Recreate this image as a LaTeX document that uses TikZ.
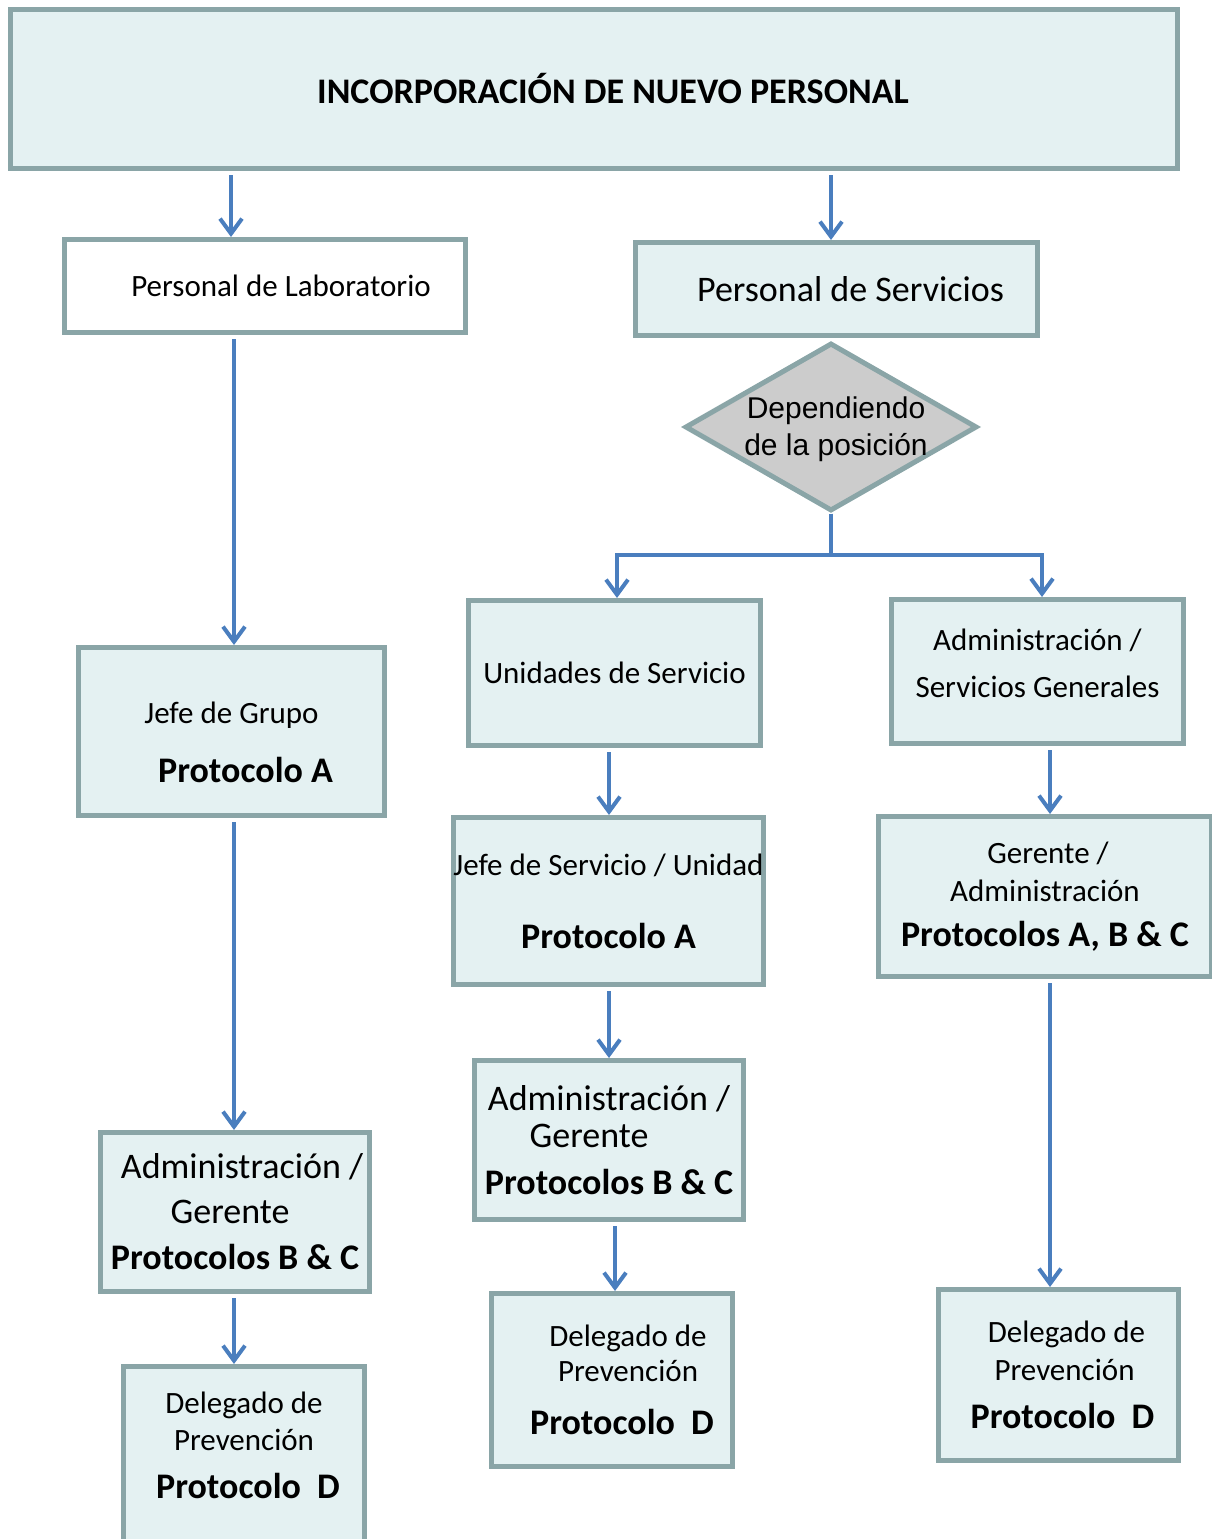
\documentclass[tikz,border=0pt]{standalone}
\usepackage{fontspec}
\setmainfont{Carlito}
\newfontfamily\arialfont{Liberation Sans}
\usetikzlibrary{shapes.geometric,arrows.meta}
\definecolor{boxgray}{RGB}{138,165,167}
\definecolor{boxfill}{RGB}{228,241,242}
\definecolor{flowblue}{RGB}{74,126,190}
\definecolor{decfill}{RGB}{204,204,204}
\newcommand{\fnorm}{\fontsize{31}{37}\selectfont}
\newcommand{\flarge}{\fontsize{36}{45}\selectfont}
\newcommand{\fbold}{\fontsize{36}{45}\selectfont\bfseries}

\begin{document}
\begin{tikzpicture}[x=1pt, y=-1pt, >={Straight Barb[length=15pt,width=22pt]},
	box/.style={draw=boxgray, line width=5pt, fill=boxfill, align=center, inner sep=0pt, font=\fnorm},
	decision/.style={diamond, draw=boxgray, line width=5pt, fill=decfill, inner sep=0pt},
	dlabel/.style={font=\arialfont\fontsize{30}{37}\selectfont, align=center},
	flow/.style={->, draw=flowblue, line width=4pt, shorten <=4pt}]
		\useasboundingbox (0,0) rectangle (1212,1539);
		% top row
		\node[box, minimum width=1167pt, minimum height=159pt, font=\fontsize{36}{44}\selectfont\bfseries] (top) at (594,89) {\hspace*{38pt}INCORPORACIÓN DE NUEVO PERSONAL};
		\node[box, fill=white, minimum width=401pt, minimum height=93pt] (lab) at (265,286) {\hspace*{32pt}Personal de Laboratorio};
		\node[box, minimum width=402pt, minimum height=93pt, font=\flarge] (serv) at (836.5,289) {\hspace*{28pt}Personal de Servicios};
		\node[decision, minimum width=292pt, minimum height=168pt,
			label={[dlabel, xshift=5pt, yshift=-2pt]center:Dependiendo\\de la posición}] (pos) at (831,427) {};
		% laboratorio
		\node[box, minimum width=306pt, minimum height=168pt] (jgrupo) at (231.5,731.5) {\rule{0pt}{44pt}Jefe de Grupo\\[22pt]\fbold\hspace*{28pt}Protocolo A};
		\node[box, minimum width=269pt, minimum height=159pt, font=\flarge] (admL) at (235,1212) {\hspace*{14pt}Administración /\\[0pt]\hspace*{-10pt}Gerente\\[1pt]\fbold Protocolos B \& C};
		\node[box, minimum width=241pt, minimum height=175pt] (delL) at (244,1454) {Delegado de\\Prevención\\[11pt]\fbold\hspace*{8pt}Protocolo\ \ D\rule[-17pt]{0pt}{0pt}};
		% unidades de servicio
		\node[box, minimum width=292pt, minimum height=145pt] (unid) at (614.5,673) {Unidades de Servicio};
		\node[box, minimum width=306pt, minimum height=167pt] (jserv) at (608.5,901) {Jefe de Servicio / Unidad\\[36pt]\fbold Protocolo A};
		\node[box, minimum width=269pt, minimum height=159pt, font=\flarge] (admM) at (609,1140) {Administración /\\[-8pt]\hspace*{-40pt}Gerente\\[2pt]\fbold Protocolos B \& C};
		\node[box, minimum width=241pt, minimum height=173pt] (delM) at (612,1380) {\hspace*{32pt}Delegado de\\[-2pt]\hspace*{32pt}Prevención\\[16pt]\fbold\hspace*{20pt}Protocolo\ \ D};
		% administracion
		\node[box, minimum width=292pt, minimum height=144pt] (admsg) at (1037.5,671.5) {Administración /\\[10pt]Servicios Generales\rule[-17pt]{0pt}{17pt}};
		\node[box, minimum width=333pt, minimum height=160pt] (geren) at (1045,896.5) {\hspace*{6pt}Gerente /\\[1pt]Administración\\[8pt]\fbold Protocolos A, B \& C};
		\node[box, minimum width=240pt, minimum height=171pt] (delR) at (1058.5,1375) {\hspace*{16pt}Delegado de\\[1pt]\hspace*{12pt}Prevención\\[11pt]\fbold\hspace*{8pt}Protocolo\ \ D};
		% connectors
		\draw[flow] (top.south -| 231,0) -- (lab.north -| 231,0);
		\draw[flow] (top.south -| 831,0) -- (serv.north -| 831,0);
		\draw[flow] (lab.south -| 234,0) -- (jgrupo.north -| 234,0);
		\draw[flow] (jgrupo.south -| 234,0) -- (admL.north -| 234,0);
		\draw[flow] (admL.south -| 234,0) -- (delL.north -| 234,0);
		\draw[flow, shorten <=0pt] (pos.south) -- ++(0,41) -| (unid.north -| 617,0);
		\draw[flow, shorten <=0pt] (pos.south) -- ++(0,41) -| (admsg.north -| 1042,0);
		\draw[flow] (unid.south -| 609,0) -- (jserv.north -| 609,0);
		\draw[flow] (jserv.south -| 609,0) -- (admM.north -| 609,0);
		\draw[flow] (admM.south -| 615,0) -- (delM.north -| 615,0);
		\draw[flow] (admsg.south -| 1050,0) -- (geren.north -| 1050,0);
		\draw[flow] (geren.south -| 1050,0) -- (delR.north -| 1050,0);
	\end{tikzpicture}
\end{document}
